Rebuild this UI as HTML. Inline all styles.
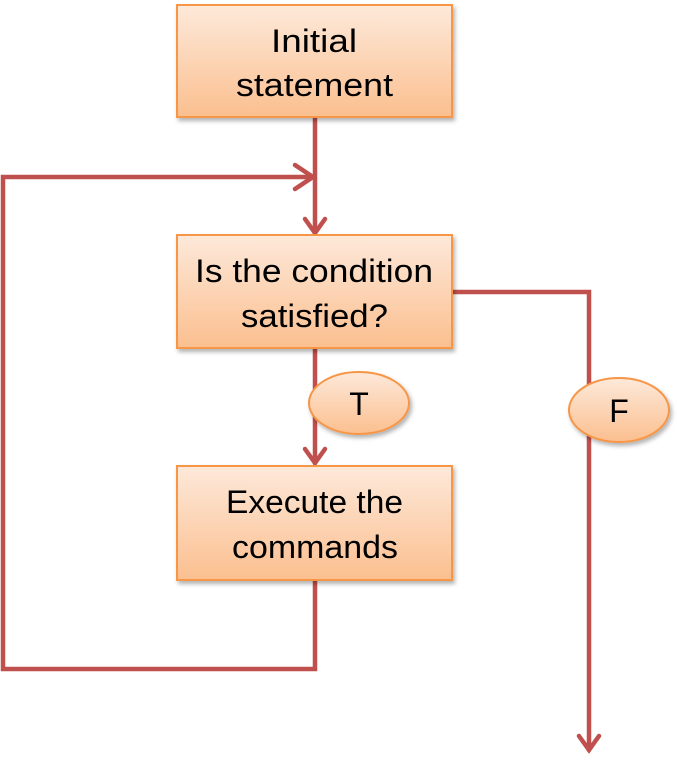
<!DOCTYPE html>
<html><head><meta charset="utf-8"><style>
html,body{margin:0;padding:0;background:#fff;}
svg{display:block;}
text{font-family:"Liberation Sans",sans-serif;font-size:32px;fill:#000;}
</style></head><body>
<svg width="677" height="773" viewBox="0 0 677 773">
<defs>
<linearGradient id="g" x1="0" y1="0" x2="0" y2="1">
<stop offset="0" stop-color="#fde9da"/><stop offset="1" stop-color="#fbbf8f"/>
</linearGradient>
<filter id="s" x="-10%" y="-10%" width="130%" height="130%"><feDropShadow dx="2" dy="3" stdDeviation="2" flood-opacity="0.3"/></filter>
</defs>
<g stroke="#c0504d" stroke-width="4.5" fill="none" stroke-linecap="round" stroke-linejoin="miter">
<path d="M315 117 V233"/>
<path d="M305 219 L315 233 L325 219"/>
<path d="M315 348 V463"/>
<path d="M305 449 L315 463 L325 449"/>
<path d="M315 580 V669 H3 V177 H313"/>
<path d="M295 165 L313 177 L295 189"/>
<path d="M452 292 H589 V750"/>
<path d="M579 736 L589 750 L599 736"/>
</g>
<g fill="url(#g)" stroke="#f79646" stroke-width="2" filter="url(#s)">
<rect x="177" y="5" width="275" height="112"/>
<rect x="177" y="235" width="275" height="113"/>
<rect x="177" y="466" width="275" height="114"/>
<ellipse cx="359" cy="403" rx="50" ry="31"/>
<ellipse cx="619" cy="410" rx="50" ry="32"/>
</g>
<g>
<text x="271" y="52" textLength="86" lengthAdjust="spacingAndGlyphs">Initial</text>
<text x="236" y="96" textLength="157" lengthAdjust="spacingAndGlyphs">statement</text>
<text x="195" y="282" textLength="238" lengthAdjust="spacingAndGlyphs">Is the condition</text>
<text x="241" y="327" textLength="147" lengthAdjust="spacingAndGlyphs">satisfied?</text>
<text x="226" y="513" textLength="177" lengthAdjust="spacingAndGlyphs">Execute the</text>
<text x="232" y="558" textLength="166" lengthAdjust="spacingAndGlyphs">commands</text>
<text x="359" y="415" text-anchor="middle">T</text>
<text x="619" y="422" text-anchor="middle">F</text>
</g>
</svg>
</body></html>
